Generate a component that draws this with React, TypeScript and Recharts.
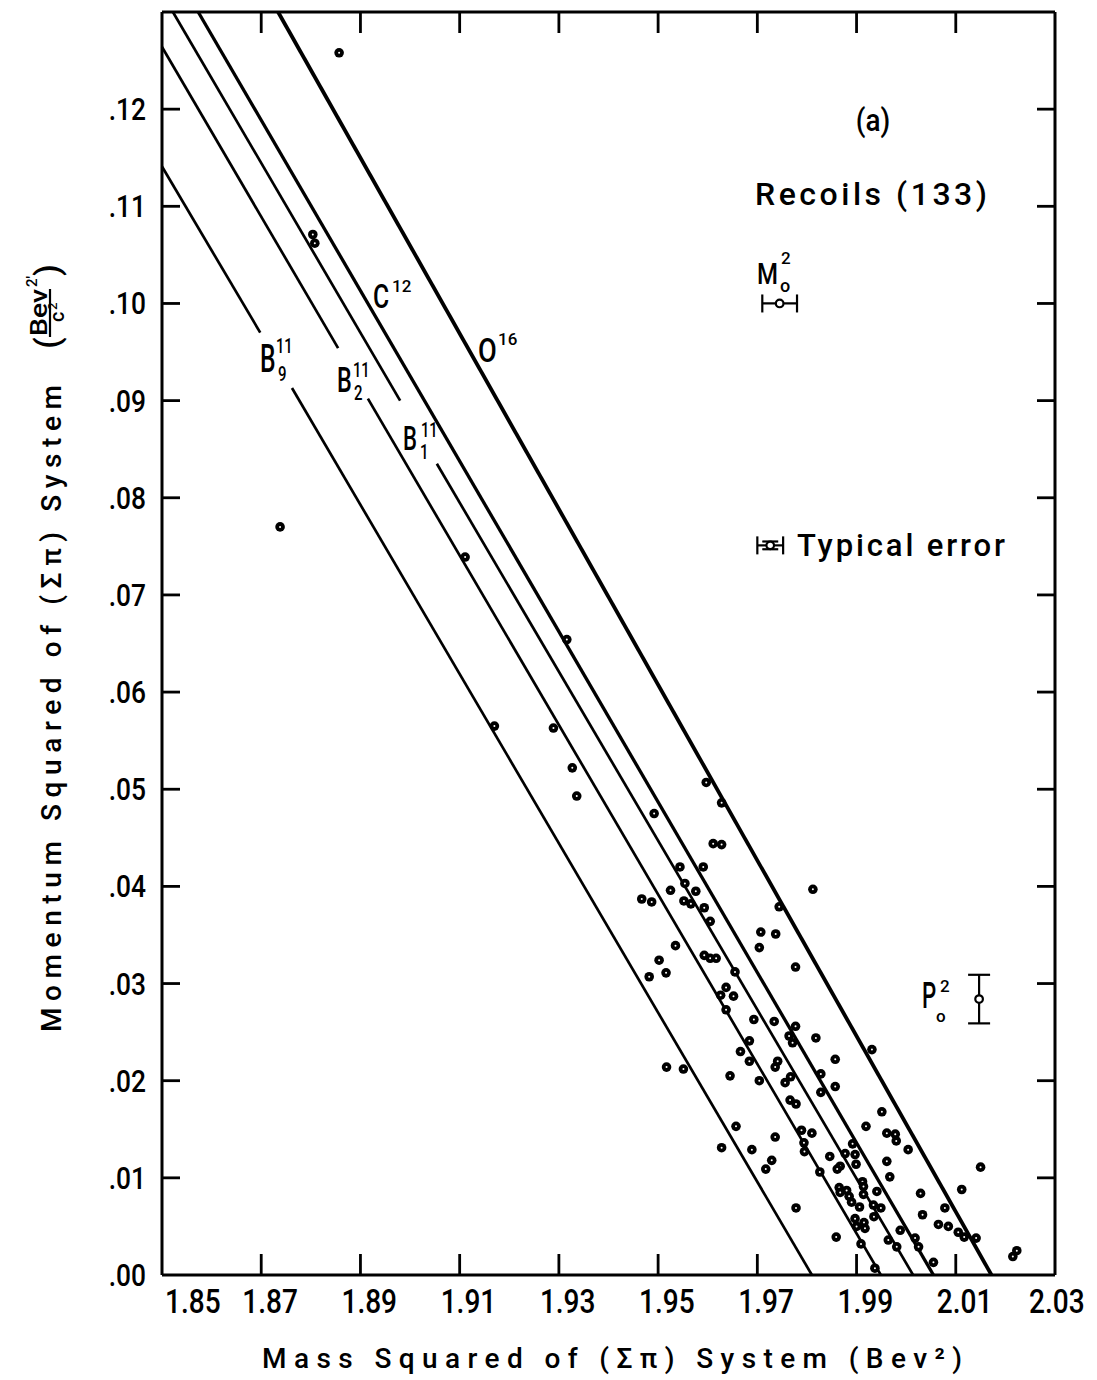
import React from 'react';
import { ScatterChart, Scatter, XAxis, YAxis, ReferenceLine, ErrorBar, Customized } from 'recharts';

// ---------- data ----------
const xTicks = [1.85, 1.87, 1.89, 1.91, 1.93, 1.95, 1.97, 1.99, 2.01, 2.03];
const yTicks = [0, 0.01, 0.02, 0.03, 0.04, 0.05, 0.06, 0.07, 0.08, 0.09, 0.1, 0.11, 0.12];
const xDomain: [number, number] = [1.85, 2.03];
const yDomain: [number, number] = [0, 0.13];

// recoil events: [mass squared, momentum squared]
const recoils: [number, number][] = [
  [1.8857, 0.1258], [1.8804, 0.1071], [1.8808, 0.1062], [1.8738, 0.077], [1.9111, 0.0739],
  [1.9316, 0.0654], [1.917, 0.0565], [1.9289, 0.0563], [1.9327, 0.0522], [1.9336, 0.0493],
  [1.9492, 0.0475], [1.9597, 0.0507], [1.9628, 0.0486], [1.9611, 0.0444], [1.9628, 0.0443],
  [1.9544, 0.042], [1.9591, 0.042], [1.9554, 0.0403], [1.9525, 0.0396], [1.9576, 0.0395],
  [1.9467, 0.0387], [1.9487, 0.0384], [1.9552, 0.0385], [1.9566, 0.0382], [1.9593, 0.0378],
  [1.9605, 0.0364], [1.9812, 0.0397], [1.9744, 0.0379], [1.9707, 0.0353], [1.9737, 0.0351],
  [1.9704, 0.0337], [1.9777, 0.0317], [1.9535, 0.0339], [1.9502, 0.0324], [1.9516, 0.0311],
  [1.9482, 0.0307], [1.9593, 0.0329], [1.9605, 0.0326], [1.9617, 0.0326], [1.9655, 0.0312],
  [1.9637, 0.0296], [1.9626, 0.0288], [1.9652, 0.0287], [1.9637, 0.0273], [1.9693, 0.0263],
  [1.9734, 0.0261], [1.9777, 0.0256], [1.9764, 0.0246], [1.9771, 0.0239], [1.9818, 0.0244],
  [1.9684, 0.0241], [1.9666, 0.023], [1.9684, 0.022], [1.9741, 0.022], [1.9736, 0.0214],
  [1.9517, 0.0214], [1.9551, 0.0212], [1.9931, 0.0232], [1.9857, 0.0222], [1.9828, 0.0207],
  [1.9645, 0.0205], [1.9704, 0.02], [1.9767, 0.0204], [1.9756, 0.0198], [1.9857, 0.0194],
  [1.9828, 0.0188], [1.9766, 0.018], [1.9778, 0.0176], [1.9951, 0.0168], [1.9919, 0.0153],
  [1.9789, 0.0149], [1.981, 0.0146], [1.9736, 0.0142], [1.9961, 0.0146], [1.9978, 0.0145],
  [1.998, 0.0138], [1.9794, 0.0136], [1.9795, 0.0127], [1.9892, 0.0135], [1.9729, 0.0118],
  [1.9717, 0.0109], [1.9846, 0.0122], [1.9877, 0.0125], [1.9897, 0.0124], [1.9961, 0.0117],
  [1.9867, 0.0112], [1.9861, 0.0109], [1.9899, 0.0114], [1.9826, 0.0106], [1.9967, 0.0101],
  [1.9912, 0.0096], [1.9914, 0.0091], [1.9865, 0.009], [1.988, 0.0087], [1.9885, 0.0081],
  [1.9867, 0.0085], [1.9941, 0.0086], [1.9914, 0.0083], [1.989, 0.0075], [1.9906, 0.007],
  [1.9934, 0.0072], [1.9949, 0.0069], [1.9778, 0.0069], [1.9935, 0.006], [1.9897, 0.0058],
  [1.99, 0.005], [1.9915, 0.0054], [1.9917, 0.0048], [1.9859, 0.0039], [1.9964, 0.0036],
  [1.9909, 0.0032], [1.9937, 0.0007], [2.0004, 0.0129], [2.015, 0.0111], [2.0029, 0.0084],
  [2.0112, 0.0088], [2.0078, 0.0069], [2.0033, 0.0062], [2.0065, 0.0052], [2.0085, 0.005],
  [1.9988, 0.0046], [2.0105, 0.0044], [2.0117, 0.0039], [2.0141, 0.0038], [1.9981, 0.0029],
  [2.0018, 0.0038], [2.0025, 0.0029], [2.0055, 0.0013], [2.0223, 0.0025], [2.0215, 0.0019],
  [1.9657, 0.0153], [1.9628, 0.0131], [1.9689, 0.0129],
];

type Pt = { x: number; y: number };
type Seg = [Pt, Pt];

// kinematic lines (segments, with gaps left for the labels)
const lineB9: Seg[] = [
  [{ x: 1.85, y: 0.1141 }, { x: 1.8698, y: 0.097 }],
  [{ x: 1.8762, y: 0.0913 }, { x: 1.981, y: 0 }],
];
const lineB2: Seg[] = [
  [{ x: 1.85, y: 0.1264 }, { x: 1.8855, y: 0.0954 }],
  [{ x: 1.8915, y: 0.0902 }, { x: 1.9949, y: 0 }],
];
const lineB1: Seg[] = [
  [{ x: 1.8522, y: 0.13 }, { x: 1.898, y: 0.09 }],
  [{ x: 1.9054, y: 0.0835 }, { x: 2.0014, y: 0 }],
];
const lineC12: Seg[] = [[{ x: 1.8573, y: 0.13 }, { x: 2.0055, y: 0 }]];
const lineO16: Seg[] = [[{ x: 1.8734, y: 0.13 }, { x: 2.0172, y: 0 }]];

// error-bar symbols
const m0Bar = [{ x: 1.9745, y: 0.1, ex: 0.0035 }];
const p0Bar = [{ x: 2.0147, y: 0.0284, ey: 0.0025 }];
const typicalBar = [{ x: 1.9726, y: 0.0751, ex: 0.0026, ey: 0.0004 }];

// ---------- drawing helpers ----------
const FONT = "Roboto, 'DejaVu Sans', Arial, sans-serif";
const WEIGHT = 500;
const W = 1089;
const H = 1372;
const pg = (v: number) => v - 8; // page coordinate -> svg coordinate

const Txt = ({ x, y, size, sx = 1, anchor = 'start', children, len }: any) => (
  <text
    transform={`translate(${x} ${y}) scale(${sx} 1)`}
    x={0}
    y={0}
    fontSize={size}
    fontFamily={FONT}
    fontWeight={WEIGHT}
    textAnchor={anchor}
    fill="#000"
    textLength={len}
    lengthAdjust={len ? 'spacing' : undefined}
  >
    {children}
  </text>
);

const near = (a: number, b: number) => Math.abs(a - b) < 1e-6;

const BottomTick = (p: any) => {
  const { x, y, payload } = p;
  const v = payload.value as number;
  const first = near(v, xTicks[0]);
  const last = near(v, xTicks[xTicks.length - 1]);
  const tx = first ? x + 3 : last ? x - 26 : x - 19;
  return (
    <g>
      {!first && !last && <line x1={x} x2={x} y1={y} y2={y - 21} stroke="#000" strokeWidth={2.8} />}
      <Txt x={tx} y={y + 38} size={33} sx={0.85}>
        {v.toFixed(2)}
      </Txt>
    </g>
  );
};

const TopTick = (p: any) => {
  const { x, y, payload } = p;
  const v = payload.value as number;
  if (near(v, xTicks[0]) || near(v, xTicks[xTicks.length - 1])) return <g />;
  return <line x1={x} x2={x} y1={y} y2={y + 21} stroke="#000" strokeWidth={2.8} />;
};

const LeftTick = (p: any) => {
  const { x, y, payload } = p;
  const v = payload.value as number;
  return (
    <g>
      {v > 0 && <line x1={x} x2={x + 18} y1={y} y2={y} stroke="#000" strokeWidth={2.8} />}
      <Txt x={x - 16} y={y + 11} size={31} sx={0.85} anchor="end">
        {v.toFixed(2).slice(1)}
      </Txt>
    </g>
  );
};

const RightTick = (p: any) => {
  const { x, y, payload } = p;
  const v = payload.value as number;
  if (v <= 0) return <g />;
  return <line x1={x} x2={x - 18} y1={y} y2={y} stroke="#000" strokeWidth={2.8} />;
};

const Dot = (p: any) => (
  <g>
    <circle cx={p.cx} cy={p.cy} r={4.8} fill="#000" />
    <circle cx={p.cx} cy={p.cy} r={1.0} fill="#fff" />
  </g>
);

const OpenDot = (p: any) => (
  <circle cx={p.cx} cy={p.cy} r={3.8} fill="#fff" stroke="#000" strokeWidth={2.2} />
);

const Nothing = () => <g />;

const Annotations = () => (
  <g>
    {/* x-axis title */}
    <Txt x={pg(262)} y={pg(1368)} size={28} len={700}>
      Mass Squared of (Σπ) System (Bev²)
    </Txt>
    {/* y-axis title */}
    <text
      transform={`translate(${pg(61)} ${pg(1032)}) rotate(-90)`}
      fontSize={28}
      fontFamily={FONT}
      fontWeight={WEIGHT}
      fill="#000"
      textLength={647}
      lengthAdjust="spacing"
    >
      Momentum Squared of (Σπ) System
    </text>
    <g transform={`translate(${pg(59)} ${pg(349)}) rotate(-90)`} fontFamily={FONT} fontWeight={WEIGHT} fill="#000">
      <text x={0} y={0} fontSize={34}>(</text>
      <text x={13} y={-12} fontSize={23} textLength={47} lengthAdjust="spacingAndGlyphs">Bev</text>
      <text x={62} y={-22} fontSize={15}>2'</text>
      <line x1={12} x2={60} y1={-9} y2={-9} stroke="#000" strokeWidth={2.2} />
      <text x={27} y={5} fontSize={20}>c</text>
      <text x={39} y={-2} fontSize={13}>2</text>
      <text x={73} y={0} fontSize={34}>)</text>
    </g>

    {/* panel text */}
    <Txt x={pg(873)} y={pg(131)} size={31} sx={0.9} anchor="middle">(a)</Txt>
    <Txt x={pg(755)} y={pg(205)} size={32} len={232}>Recoils (133)</Txt>
    <Txt x={pg(757)} y={pg(284)} size={30} sx={0.8}>M</Txt>
    <Txt x={pg(781)} y={pg(264)} size={17}>2</Txt>
    <Txt x={pg(780)} y={pg(292)} size={18}>o</Txt>
    <Txt x={pg(797)} y={pg(556)} size={31} len={208}>Typical error</Txt>
    <Txt x={pg(922)} y={pg(1008)} size={36} sx={0.62}>P</Txt>
    <Txt x={pg(940)} y={pg(992)} size={17}>2</Txt>
    <Txt x={pg(936)} y={pg(1022)} size={17}>o</Txt>

    {/* line labels */}
    <Txt x={pg(260)} y={pg(372)} size={38} sx={0.65}>B</Txt>
    <Txt x={pg(276)} y={pg(353)} size={21} sx={0.7}>11</Txt>
    <Txt x={pg(278)} y={pg(381)} size={20} sx={0.75}>9</Txt>

    <Txt x={pg(337)} y={pg(392)} size={36} sx={0.65}>B</Txt>
    <Txt x={pg(353)} y={pg(377)} size={21} sx={0.7}>11</Txt>
    <Txt x={pg(354)} y={pg(400)} size={20} sx={0.75}>2</Txt>

    <Txt x={pg(403)} y={pg(450)} size={34} sx={0.65}>B</Txt>
    <Txt x={pg(421)} y={pg(437)} size={21} sx={0.7}>11</Txt>
    <Txt x={pg(420)} y={pg(459)} size={20} sx={0.75}>1</Txt>

    <Txt x={pg(373)} y={pg(308)} size={33} sx={0.75}>C</Txt>
    <Txt x={pg(392)} y={pg(292)} size={17}>12</Txt>

    <Txt x={pg(478)} y={pg(362)} size={34} sx={0.8}>O</Txt>
    <Txt x={pg(498)} y={pg(345)} size={17}>16</Txt>
  </g>
);

const segLines = (segs: Seg[], width: number, key: string) =>
  segs.map((s, i) => (
    <ReferenceLine
      key={`${key}-${i}`}
      segment={s}
      stroke="#000"
      strokeWidth={width}
      ifOverflow="visible"
    />
  ));

const AX = 1; // thickness reserved for each axis box

export default function App() {
  const recoilData = recoils.map(([x, y]) => ({ x, y }));
  return (
    <div style={{ width: W, height: H, background: '#fff' }}>
      <ScatterChart
        width={W}
        height={H}
        style={{ overflow: 'visible' }}
        margin={{
          top: pg(12) - AX,
          right: W - pg(1055) - AX,
          bottom: H - pg(1275) - AX,
          left: pg(162) - AX,
        }}
      >
        <XAxis
          xAxisId={0}
          type="number"
          dataKey="x"
          domain={xDomain}
          ticks={xTicks}
          interval={0}
          allowDataOverflow
          height={AX}
          tickSize={0}
          tickMargin={0}
          tickLine={false}
          axisLine={{ stroke: '#000', strokeWidth: 3 }}
          tick={<BottomTick />}
        />
        <XAxis
          xAxisId="top"
          orientation="top"
          type="number"
          dataKey="x"
          domain={xDomain}
          ticks={xTicks}
          interval={0}
          allowDataOverflow
          height={AX}
          tickSize={0}
          tickMargin={0}
          tickLine={false}
          axisLine={{ stroke: '#000', strokeWidth: 3 }}
          tick={<TopTick />}
        />
        <YAxis
          yAxisId={0}
          type="number"
          dataKey="y"
          domain={yDomain}
          ticks={yTicks}
          interval={0}
          allowDataOverflow
          width={AX}
          tickSize={0}
          tickMargin={0}
          tickLine={false}
          axisLine={{ stroke: '#000', strokeWidth: 3 }}
          tick={<LeftTick />}
        />
        <YAxis
          yAxisId="right"
          orientation="right"
          type="number"
          dataKey="y"
          domain={yDomain}
          ticks={yTicks}
          interval={0}
          allowDataOverflow
          width={AX}
          tickSize={0}
          tickMargin={0}
          tickLine={false}
          axisLine={{ stroke: '#000', strokeWidth: 3 }}
          tick={<RightTick />}
        />

        {segLines(lineB9, 2.7, 'b9')}
        {segLines(lineB2, 2.7, 'b2')}
        {segLines(lineB1, 2.7, 'b1')}
        {segLines(lineC12, 3.3, 'c12')}
        {segLines(lineO16, 3.8, 'o16')}

        <Scatter
          xAxisId="top"
          yAxisId="right"
          data={recoilData}
          shape={<Nothing />}
          isAnimationActive={false}
        />
        <Scatter data={recoilData} shape={<Dot />} isAnimationActive={false} />

        <Scatter data={m0Bar} shape={<OpenDot />} isAnimationActive={false}>
          <ErrorBar dataKey="ex" direction="x" width={9} stroke="#000" strokeWidth={2.2} isAnimationActive={false} />
        </Scatter>
        <Scatter data={p0Bar} shape={<OpenDot />} isAnimationActive={false}>
          <ErrorBar dataKey="ey" direction="y" width={11} stroke="#000" strokeWidth={2.2} isAnimationActive={false} />
        </Scatter>
        <Scatter data={typicalBar} shape={<OpenDot />} isAnimationActive={false}>
          <ErrorBar dataKey="ex" direction="x" width={9} stroke="#000" strokeWidth={2.2} isAnimationActive={false} />
          <ErrorBar dataKey="ey" direction="y" width={8} stroke="#000" strokeWidth={2.2} isAnimationActive={false} />
        </Scatter>

        <Customized component={Annotations} />
      </ScatterChart>
    </div>
  );
}
